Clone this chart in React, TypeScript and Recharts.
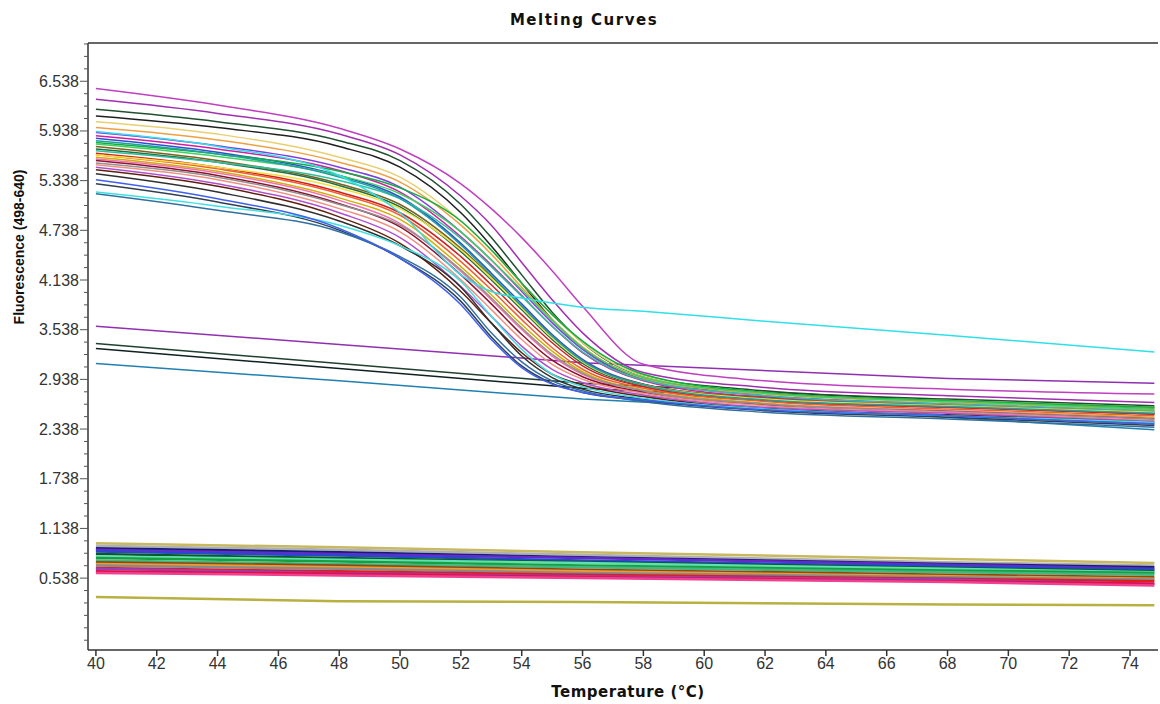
import React from 'react';
import { LineChart, Line, XAxis, YAxis, ReferenceLine } from 'recharts';

// sample temperatures for the melting curves
const temps = [40, 44, 48, 50, 52, 53, 54, 55, 56, 58, 62, 68, 74.8];
// sample temperatures for the straight (non melting) traces
const lineTemps = [40, 48, 56, 68, 74.8];

const meltCurves = [
  [6.45, 6.25, 5.97, 5.72, 5.3, 5.0, 4.65, 4.25, 3.82, 3.12, 2.92, 2.82, 2.76],
  [6.32, 6.15, 5.9, 5.65, 5.15, 4.8, 4.35, 3.9, 3.5, 3.02, 2.84, 2.74, 2.66],
  [6.2, 6.05, 5.82, 5.58, 5.05, 4.65, 4.2, 3.75, 3.38, 2.98, 2.8, 2.7, 2.62],
  [6.12, 5.98, 5.75, 5.5, 4.95, 4.55, 4.1, 3.66, 3.32, 2.95, 2.78, 2.68, 2.6],
  [6.05, 5.9, 5.62, 5.38, 4.85, 4.5, 4.1, 3.72, 3.38, 2.98, 2.78, 2.68, 2.6],
  [5.98, 5.83, 5.56, 5.32, 4.8, 4.45, 4.05, 3.66, 3.33, 2.95, 2.76, 2.66, 2.57],
  [5.92, 5.76, 5.5, 5.26, 4.72, 4.38, 4.0, 3.62, 3.3, 2.93, 2.74, 2.64, 2.55],
  [5.88, 5.72, 5.46, 5.2, 4.66, 4.32, 3.95, 3.58, 3.26, 2.92, 2.72, 2.63, 2.55],
  [5.85, 5.68, 5.4, 5.14, 4.58, 4.22, 3.85, 3.48, 3.18, 2.88, 2.7, 2.61, 2.52],
  [5.8, 5.66, 5.45, 5.25, 4.85, 4.5, 4.1, 3.72, 3.4, 3.0, 2.78, 2.68, 2.6],
  [5.78, 5.63, 5.4, 5.18, 4.72, 4.38, 4.02, 3.65, 3.32, 2.96, 2.77, 2.67, 2.58],
  [5.75, 5.58, 5.3, 5.05, 4.52, 4.18, 3.82, 3.46, 3.16, 2.88, 2.71, 2.62, 2.54],
  [5.72, 5.56, 5.28, 5.02, 4.48, 4.14, 3.78, 3.42, 3.13, 2.86, 2.69, 2.6, 2.52],
  [5.7, 5.56, 5.34, 5.12, 4.64, 4.3, 3.94, 3.58, 3.27, 2.93, 2.74, 2.64, 2.56],
  [5.67, 5.5, 5.2, 4.95, 4.42, 4.08, 3.72, 3.38, 3.1, 2.85, 2.68, 2.6, 2.52],
  [5.65, 5.48, 5.18, 4.92, 4.36, 4.02, 3.66, 3.32, 3.06, 2.83, 2.67, 2.58, 2.5],
  [5.62, 5.45, 5.13, 4.87, 4.3, 3.96, 3.6, 3.28, 3.03, 2.81, 2.65, 2.56, 2.48],
  [5.6, 5.43, 5.1, 4.82, 4.24, 3.9, 3.54, 3.22, 3.0, 2.8, 2.64, 2.56, 2.47],
  [5.58, 5.4, 5.06, 4.78, 4.2, 3.85, 3.48, 3.17, 2.97, 2.78, 2.63, 2.55, 2.46],
  [5.55, 5.38, 5.05, 4.8, 4.26, 3.92, 3.56, 3.24, 3.01, 2.8, 2.64, 2.55, 2.46],
  [5.53, 5.35, 5.0, 4.72, 4.14, 3.78, 3.42, 3.12, 2.94, 2.77, 2.62, 2.54, 2.44],
  [5.5, 5.3, 4.95, 4.65, 4.06, 3.7, 3.34, 3.06, 2.9, 2.75, 2.6, 2.53, 2.43],
  [5.47, 5.27, 4.9, 4.58, 4.0, 3.62, 3.26, 3.0, 2.87, 2.73, 2.58, 2.51, 2.42],
  [5.42, 5.2, 4.85, 4.55, 4.05, 3.62, 3.22, 2.96, 2.82, 2.7, 2.57, 2.5, 2.4],
  [5.3, 5.08, 4.74, 4.4, 3.88, 3.45, 3.1, 2.89, 2.78, 2.68, 2.56, 2.48, 2.38],
  [5.18, 4.98, 4.72, 4.42, 3.93, 3.5, 3.15, 2.92, 2.8, 2.67, 2.54, 2.46, 2.36],
  [5.2, 5.03, 4.8, 4.55, 4.12, 3.7, 3.3, 3.0, 2.85, 2.71, 2.58, 2.5, 2.42],
  [5.35, 5.12, 4.76, 4.4, 3.84, 3.42, 3.08, 2.88, 2.78, 2.69, 2.57, 2.5, 2.4],
  [5.65, 5.5, 5.25, 5.0, 4.5, 4.16, 3.8, 3.44, 3.15, 2.87, 2.7, 2.62, 2.54],
  [5.82, 5.66, 5.38, 5.12, 4.56, 4.2, 3.82, 3.46, 3.16, 2.87, 2.69, 2.61, 2.53],
];
const meltColors = [
  '#c040c0', '#a030b0', '#205030', '#202020', '#e8d070', '#f0a040', '#8040e0', '#d020a0',
  '#3050d0', '#10b040', '#40d060', '#806020', '#207040', '#30c0a0', '#d02020', '#f06030',
  '#d0b000', '#f070b0', '#901030', '#909090', '#f09080', '#b050d0', '#602010', '#303030',
  '#304050', '#3070a0', '#40e0e0', '#4060f0', '#f0e040', '#20a0a0',
];

// the one trace that stops melting half way
const cyanCurve = [5.93, 5.75, 5.4, 4.95, 4.2, 4.0, 3.92, 3.86, 3.81, 3.76, 3.64, 3.47, 3.27];

const straightLines = [
  [3.58, 3.36, 3.14, 2.95, 2.89],
  [3.37, 3.13, 2.89, 2.68, 2.58],
  [3.31, 3.07, 2.83, 2.62, 2.52],
  [3.13, 2.92, 2.7, 2.48, 2.33],
];
const straightColors = ['#9030b0', '#204030', '#102020', '#2080b0'];

const lowLines = [
  [0.96, 0.91, 0.85, 0.77, 0.72],
  [0.93, 0.88, 0.82, 0.73, 0.69],
  [0.9, 0.85, 0.79, 0.71, 0.67],
  [0.88, 0.83, 0.78, 0.7, 0.65],
  [0.86, 0.81, 0.75, 0.68, 0.64],
  [0.83, 0.78, 0.73, 0.66, 0.62],
  [0.8, 0.76, 0.72, 0.65, 0.61],
  [0.78, 0.74, 0.69, 0.63, 0.6],
  [0.75, 0.71, 0.67, 0.61, 0.58],
  [0.73, 0.69, 0.64, 0.58, 0.55],
  [0.71, 0.67, 0.62, 0.56, 0.53],
  [0.69, 0.65, 0.6, 0.55, 0.52],
  [0.66, 0.62, 0.58, 0.53, 0.5],
  [0.65, 0.6, 0.56, 0.52, 0.47],
  [0.62, 0.59, 0.55, 0.5, 0.47],
  [0.6, 0.57, 0.54, 0.49, 0.45],
  [0.31, 0.26, 0.25, 0.22, 0.21],
];
const lowColors = [
  '#c8b860', '#b0b0b0', '#102070', '#6a28c8', '#2848d0', '#0a5a28', '#60e0b0', '#18a040',
  '#40b880', '#8a4a18', '#f09a30', '#8a8a8a', '#e01c1c', '#9a40b0', '#e0104a', '#f04090',
  '#b8b040',
];

const xTicks = [40, 42, 44, 46, 48, 50, 52, 54, 56, 58, 60, 62, 64, 66, 68, 70, 72, 74];
const yTicks = [0.538, 1.138, 1.738, 2.338, 2.938, 3.538, 4.138, 4.738, 5.338, 5.938, 6.538];
const yAllTicks = Array.from({ length: 49 }, (_, i) => Math.round((-0.212 + i * 0.15) * 1000) / 1000);

const rows = temps.map((t, i) => {
  const row: Record<string, number | null> = { t };
  meltCurves.forEach((c, k) => { row['m' + k] = c[i]; });
  row.cyan = cyanCurve[i];
  const j = lineTemps.indexOf(t);
  straightLines.forEach((c, k) => { row['s' + k] = j >= 0 ? c[j] : null; });
  lowLines.forEach((c, k) => { row['l' + k] = j >= 0 ? c[j] : null; });
  return row;
});

const font = 'Liberation Sans, Arial, sans-serif';
const headFont = 'DejaVu Sans, Verdana, sans-serif';

const YTick = (props: any) => {
  const { x, y, payload } = props;
  const major = yTicks.some(v => Math.abs(v - payload.value) < 1e-6);
  return (
    <g>
      <line x1={major ? x : x + 4} x2={x + 8} y1={y} y2={y} stroke="#555" />
      {major && (
        <text x={x - 1} y={y} dy={5.5} textAnchor="end" fontSize={16} fill="#333" fontFamily={font}>
          {payload.value.toFixed(3)}
        </text>
      )}
    </g>
  );
};

const App = () => {
  return (
    <div style={{ position: 'absolute', left: 0, top: 0, width: 1160, height: 704, background: '#fff' }}>
      <LineChart width={1160} height={704} data={rows} margin={{ top: 43, right: 2, left: 0, bottom: 0 }}>
        <XAxis
          dataKey="t"
          type="number"
          domain={[39.74, 74.92]}
          ticks={xTicks}
          allowDataOverflow
          height={54}
          tickSize={6}
          tickMargin={2}
          stroke="#333"
          strokeWidth={1.5}
          tick={{ fontSize: 16, fill: '#333', fontFamily: font }}
        />
        <YAxis
          type="number"
          domain={[-0.33, 7.0]}
          ticks={yAllTicks}
          allowDataOverflow
          interval={0}
          width={88}
          tickSize={8}
          tickMargin={0}
          tickLine={false}
          stroke="#333"
          strokeWidth={1.5}
          tick={<YTick />}
        />
        <ReferenceLine y={7.0} stroke="#333" strokeWidth={1.5} />
        {lowLines.map((_, k) => (
          <Line key={'l' + k} dataKey={'l' + k} type="linear" stroke={lowColors[k]} strokeWidth={2.5}
            dot={false} connectNulls isAnimationActive={false} />
        ))}
        {straightLines.map((_, k) => (
          <Line key={'s' + k} dataKey={'s' + k} type="linear" stroke={straightColors[k]} strokeWidth={1.5}
            dot={false} connectNulls isAnimationActive={false} />
        ))}
        {meltCurves.map((_, k) => (
          <Line key={'m' + k} dataKey={'m' + k} type="monotone" stroke={meltColors[k]} strokeWidth={1.5}
            dot={false} isAnimationActive={false} />
        ))}
        <Line dataKey="cyan" type="monotone" stroke="#30e0e8" strokeWidth={1.5} dot={false} isAnimationActive={false} />
      </LineChart>
      <svg width={1160} height={704} style={{ position: 'absolute', left: 0, top: 0, pointerEvents: 'none' }}>
        <text x={584} y={25} textAnchor="middle" fontSize={15} fontWeight="bold" letterSpacing={1.5} fontFamily={headFont} fill="#111">
          Melting Curves
        </text>
        <text x={628} y={697} textAnchor="middle" fontSize={15} fontWeight="bold" letterSpacing={0.5} fontFamily={headFont} fill="#111">
          Temperature (°C)
        </text>
        <text transform="translate(24,247) rotate(-90)" textAnchor="middle" fontSize={14} fontWeight="bold" fontFamily={font} fill="#111">
          Fluorescence (498-640)
        </text>
      </svg>
    </div>
  );
};

export default App;
